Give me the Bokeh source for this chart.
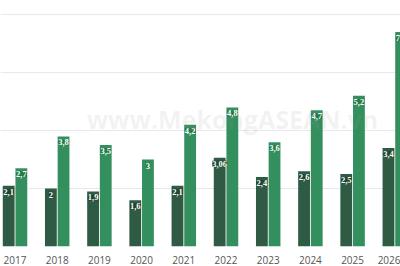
from bokeh.plotting import figure
from bokeh.models import ColumnDataSource, Range1d, LabelSet, Label, FixedTicker, SingleIntervalTicker
from bokeh.embed import file_html
from bokeh.resources import INLINE

years = ["2017", "2018", "2019", "2020", "2021", "2022", "2023", "2024", "2025", "2026"]
series_dark = [2.1, 2.0, 1.9, 1.6, 2.1, 3.06, 2.4, 2.6, 2.5, 3.4]
series_green = [2.7, 3.8, 3.5, 3.0, 4.2, 4.8, 3.6, 4.7, 5.2, 7.4]
label_dark = ["2,1", "2", "1,9", "1,6", "2,1", "3,06", "2,4", "2,6", "2,5", "3,4"]
label_green = ["2,7", "3,8", "3,5", "3", "4,2", "4,8", "3,6", "4,7", "5,2", "7,4"]

DARK = "#2f5a43"
GREEN = "#33905e"
FONT = "Open Sans"

idx = list(range(len(years)))
src_d = ColumnDataSource(dict(x=[i - 0.15 for i in idx], top=series_dark, lab=label_dark))
src_g = ColumnDataSource(dict(x=[i + 0.15 for i in idx], top=series_green, lab=label_green))

p = figure(width=400, height=266, output_backend="svg", toolbar_location=None,
           x_range=Range1d(-0.344, 9.135), y_range=Range1d(0, 8.49),
           min_border=0, min_border_left=0, min_border_right=0, min_border_top=0, min_border_bottom=0)
p.outline_line_color = None
p.background_fill_color = "white"
p.border_fill_color = "white"

p.vbar(x="x", top="top", width=0.28, bottom=0, source=src_d, fill_color=DARK, line_color=None)
p.vbar(x="x", top="top", width=0.28, bottom=0, source=src_g, fill_color=GREEN, line_color=None)

for src, col in ((src_d, "#23452f"), (src_g, "#287a4c")):
    ls = LabelSet(x="x", y="top", text="lab", source=src, text_align="center", text_baseline="top",
                  y_offset=-3, text_color="white", text_font=FONT, text_font_size="8.5px",
                  text_font_style="bold", background_fill_color=col, background_fill_alpha=1.0)
    p.add_layout(ls)

wm = Label(x=232, y=128, x_units="screen", y_units="screen", text="www.MekongASEAN.vn",
           text_align="center", text_baseline="middle", text_font=FONT, text_font_size="25px",
           text_font_style="bold", text_color="#9a9a9a", text_alpha=0.13)
p.add_layout(wm)

p.yaxis.visible = False
p.xaxis.ticker = FixedTicker(ticks=idx)
p.xaxis.major_label_overrides = {i: y for i, y in zip(idx, years)}
p.xaxis.axis_line_color = None
p.xaxis.major_tick_line_color = None
p.xaxis.minor_tick_line_color = None
p.xaxis.major_label_text_font = FONT
p.xaxis.major_label_text_font_size = "10px"
p.xaxis.major_label_text_color = "#555555"
p.xaxis.major_label_standoff = 3

p.xgrid.grid_line_color = None
p.ygrid.ticker = SingleIntervalTicker(interval=2)
p.ygrid.grid_line_color = "#e8e8e8"
p.ygrid.grid_line_width = 1

open("out.html", "w").write(file_html(p, INLINE))
